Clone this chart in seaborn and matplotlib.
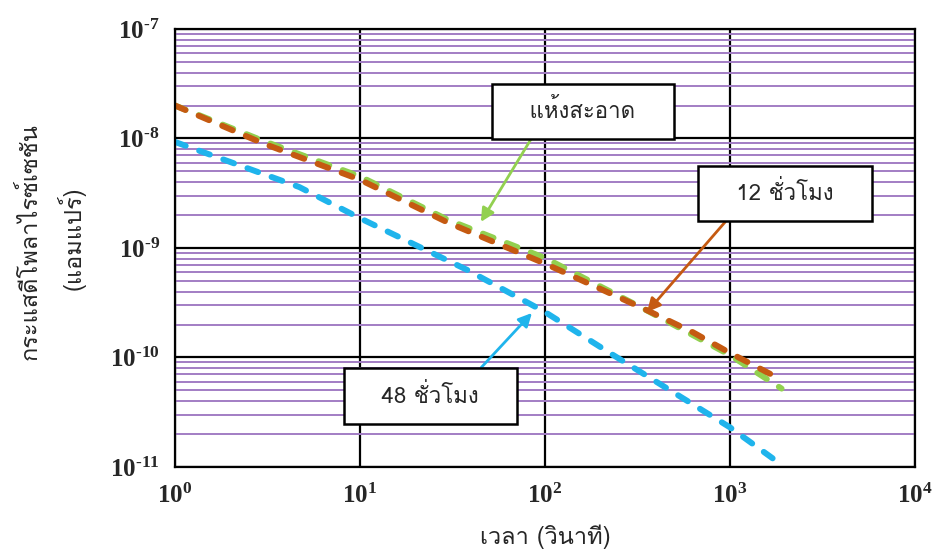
import numpy as np
import pandas as pd
import matplotlib
matplotlib.use('Agg')
import matplotlib.pyplot as plt
import seaborn as sns
from matplotlib import font_manager
from matplotlib.ticker import LogLocator, FuncFormatter, NullFormatter

# data (time in s, current in A)
t_clean = [1, 3, 10, 30, 100, 340, 630, 1000, 1900]
i_clean = [2.0e-8, 9.5e-9, 4.5e-9, 1.8e-9, 8.1e-10, 2.8e-10, 1.6e-10, 1.05e-10, 5.2e-11]
t_12h = [1, 3, 10, 30, 100, 340, 630, 1000, 1700]
i_12h = [2.0e-8, 9.0e-9, 4.2e-9, 1.7e-9, 7.2e-10, 2.8e-10, 1.7e-10, 1.1e-10, 6.9e-11]
t_48h = [1, 4.7, 10, 38, 100, 224, 1000, 1700]
i_48h = [9.3e-9, 3.6e-9, 1.87e-9, 6.3e-10, 2.6e-10, 1.1e-10, 2.3e-11, 1.2e-11]

labels = ['แห้งสะอาด', '12 ชั่วโมง', '48 ชั่วโมง']
colors = ['#92d050', '#c55a11', '#1fb4ec']

# find an installed font that has Thai glyphs
thai_family = None
for f in font_manager.fontManager.ttflist:
    try:
        from fontTools.ttLib import TTFont
        cmap = TTFont(f.fname, fontNumber=0, lazy=True).getBestCmap()
        if cmap and 0x0E01 in cmap and 0x0E2A in cmap:
            thai_family = f.name
            break
    except Exception:
        pass
thai_fonts = [thai_family, 'DejaVu Sans'] if thai_family else ['DejaVu Sans']

sns.set_style('white')
plt.rcParams['font.family'] = thai_fonts
plt.rcParams['mathtext.fontset'] = 'custom'
plt.rcParams['mathtext.rm'] = 'Liberation Serif:bold'
plt.rcParams['mathtext.bf'] = 'Liberation Serif:bold'

df = pd.concat([
    pd.DataFrame({'t': t_clean, 'i': i_clean, 'cond': labels[0]}),
    pd.DataFrame({'t': t_12h, 'i': i_12h, 'cond': labels[1]}),
    pd.DataFrame({'t': t_48h, 'i': i_48h, 'cond': labels[2]}),
])

fig = plt.figure(figsize=(9.43, 5.52), dpi=100)
ax = fig.add_axes([0.1856, 0.154, 0.7847, 0.7935])
ax.set_xscale('log')
ax.set_yscale('log')
ax.set_xlim(1, 1e4)
ax.set_ylim(1e-11, 1e-7)

# grid: black decades, purple minor horizontals
ax.yaxis.set_minor_locator(LogLocator(base=10, subs=np.arange(2, 10)))
ax.yaxis.set_minor_formatter(NullFormatter())
ax.xaxis.set_minor_locator(LogLocator(base=10, subs=[]))
ax.grid(True, which='minor', axis='y', color='#a27dc4', lw=1.4)
ax.grid(True, which='major', color='black', lw=1.6)
ax.set_axisbelow(True)

sns.lineplot(data=df, x='t', y='i', hue='cond', palette=colors, hue_order=labels,
             ax=ax, lw=4.3, legend=False, sort=False, estimator=None)
for ln in ax.get_lines():
    ln.set_dashes([1.9, 2.4])
    ln.set_dash_capstyle('round')

for sp in ax.spines.values():
    sp.set_color('black')
    sp.set_linewidth(1.6)

def pow_label(v, pos):
    e = int(round(np.log10(v)))
    s = str(e).replace('-', '\u2010')
    return r'$\mathbf{10^{%s}}$' % s

ax.xaxis.set_major_formatter(FuncFormatter(pow_label))
ax.yaxis.set_major_formatter(FuncFormatter(pow_label))
ax.tick_params(axis='both', which='both', length=0, labelsize=18)
ax.tick_params(axis='x', pad=12)
ax.tick_params(axis='y', pad=11)

ax.set_xlabel('เวลา (วินาที)', fontsize=17)
ax.xaxis.label.set_va('center')
ax.xaxis.set_label_coords(0.5, -0.16)
ax.yaxis.label.set_visible(False)
fig.text(0.032, 0.563, 'กระแสดีโพลาไรซ์เซชัน', rotation=90, fontsize=17, ha='center', va='center')
fig.text(0.075, 0.568, '(แอมแปร์)', rotation=90, fontsize=17, ha='center', va='center')

box = dict(boxstyle='square,pad=0.7', fc='white', ec='black', lw=1.8)
ax.annotate('   ' + labels[0] + '   ', xy=(45, 1.73e-9), xytext=(160, 1.77e-8), fontsize=16,
            ha='center', va='center', bbox=box,
            arrowprops=dict(arrowstyle='-|>', color=colors[0], lw=2, mutation_scale=20,
                            shrinkA=0, shrinkB=0, relpos=(0.22, 0)))
ax.annotate('   ' + labels[1] + '   ', xy=(356, 2.6e-10), xytext=(1983, 3.15e-9), fontsize=16,
            ha='center', va='center', bbox=box,
            arrowprops=dict(arrowstyle='-|>', color=colors[1], lw=2, mutation_scale=20,
                            shrinkA=0, shrinkB=0, relpos=(0.18, 0)))
ax.annotate('   ' + labels[2] + '   ', xy=(85, 2.55e-10), xytext=(24, 4.45e-11), fontsize=16,
            ha='center', va='center', bbox=box,
            arrowprops=dict(arrowstyle='-|>', color=colors[2], lw=2, mutation_scale=20,
                            shrinkA=0, shrinkB=0, relpos=(0.75, 1)))

fig.savefig('out.png', dpi=100)
